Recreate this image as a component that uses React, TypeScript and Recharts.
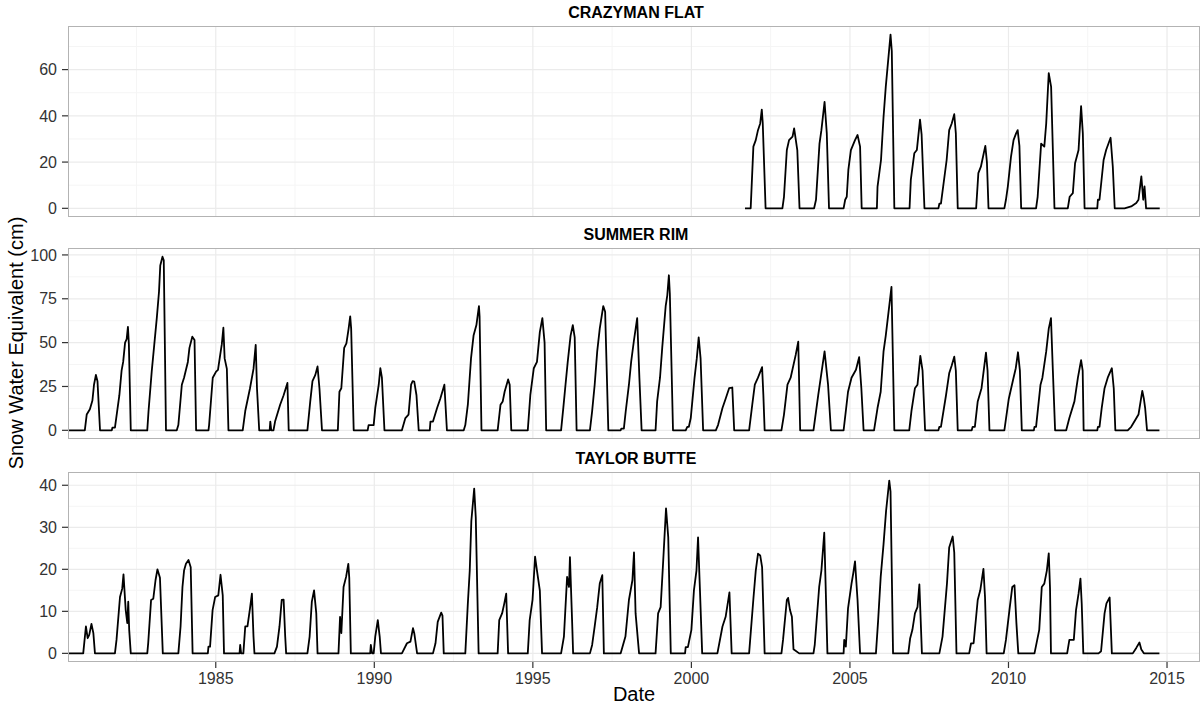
import React from 'react';
import { LineChart, Line, XAxis, YAxis, ReferenceLine } from 'recharts';

// ---- axis data ----
const xTicks = [1985, 1990, 1995, 2000, 2005, 2010, 2015];
const xMinor = [1982.5, 1987.5, 1992.5, 1997.5, 2002.5, 2007.5, 2012.5];
const xDomain: [number, number] = [1980.34, 2016.04];

const crazymanTicks = [0, 20, 40, 60];
const crazymanMinor = [10, 30, 50, 70];
const summerTicks = [0, 25, 50, 75, 100];
const summerMinor = [12.5, 37.5, 62.5, 87.5];
const taylorTicks = [0, 10, 20, 30, 40];
const taylorMinor = [5, 15, 25, 35];

// ---- series data: [decimal year, SWE cm] ----
const crazymanFlat: [number, number][] = [
  [2001.69, 0],
  [2001.87, 0], [2001.955, 26.7], [2002.03, 29.5], [2002.10, 33.8], [2002.17, 36.7], [2002.22, 42.7], [2002.25, 37], [2002.34, 0],
  [2002.87, 0], [2002.92, 5], [2003.01, 25.2], [2003.08, 29.5], [2003.19, 31], [2003.24, 34.6], [2003.34, 25.2], [2003.41, 0],
  [2003.87, 0], [2003.93, 3.7], [2004.04, 28], [2004.10, 33.8], [2004.20, 46], [2004.27, 32.4], [2004.34, 0],
  [2004.80, 0], [2004.85, 3.7], [2004.90, 5], [2004.95, 16.6], [2005.03, 25.2], [2005.16, 29.5], [2005.24, 31.7], [2005.32, 26.7], [2005.37, 0],
  [2005.85, 0], [2005.87, 9.3], [2005.98, 20.9], [2006.06, 39.6], [2006.13, 52.5], [2006.28, 75.1], [2006.32, 68], [2006.40, 0],
  [2006.88, 0], [2006.92, 12.3], [2007.03, 23.8], [2007.11, 25.2], [2007.21, 38.4], [2007.26, 32], [2007.35, 0],
  [2007.79, 0], [2007.82, 2], [2007.87, 2], [2008.05, 20.9], [2008.13, 33.8], [2008.21, 36.7], [2008.29, 40.7], [2008.34, 32.4], [2008.40, 0],
  [2008.98, 0], [2009.05, 15.2], [2009.13, 18], [2009.22, 23.8], [2009.27, 27], [2009.32, 20], [2009.37, 0],
  [2009.87, 0], [2009.92, 3.7], [2009.98, 9.5], [2010.08, 22.4], [2010.16, 29.5], [2010.24, 32.4], [2010.29, 33.8], [2010.345, 27], [2010.40, 0],
  [2010.87, 0], [2010.92, 5], [2011.03, 28], [2011.13, 26.7], [2011.19, 36.7], [2011.27, 58.5], [2011.345, 52.5], [2011.45, 0],
  [2011.87, 0], [2011.93, 5], [2012.03, 6.6], [2012.10, 19.5], [2012.21, 25.2], [2012.29, 44.2], [2012.345, 32.4], [2012.40, 0],
  [2012.80, 0], [2012.82, 3.7], [2012.87, 3.7], [2013.0, 20.9], [2013.08, 25.2], [2013.22, 30.5], [2013.29, 18], [2013.35, 0],
  [2013.66, 0], [2013.87, 0.8], [2014.03, 2.3], [2014.10, 3.7], [2014.19, 13.8], [2014.25, 3.7], [2014.29, 9.5], [2014.34, 0],
  [2014.77, 0],
];

const summerRim: [number, number][] = [
  [1980.34, 0],
  [1980.87, 0], [1980.93, 9], [1981.03, 12], [1981.11, 17], [1981.16, 26], [1981.22, 31.6], [1981.27, 28], [1981.35, 0],
  [1981.72, 0], [1981.74, 1.5], [1981.82, 1.5], [1981.96, 20], [1982.03, 34], [1982.08, 39], [1982.14, 50], [1982.19, 52], [1982.23, 59], [1982.26, 49], [1982.32, 0],
  [1982.84, 0], [1982.88, 11], [1982.98, 33.5], [1983.06, 48.7], [1983.14, 64], [1983.21, 79], [1983.25, 94], [1983.32, 99], [1983.36, 97], [1983.43, 0],
  [1983.77, 0], [1983.82, 3], [1983.93, 26], [1984.0, 30], [1984.12, 39], [1984.17, 47], [1984.26, 53.4], [1984.33, 51.5], [1984.38, 0],
  [1984.77, 0], [1984.79, 3], [1984.905, 30], [1985.01, 33.5], [1985.07, 34.5], [1985.14, 43], [1985.19, 49], [1985.24, 58.5], [1985.28, 41], [1985.35, 35], [1985.40, 0],
  [1985.85, 0], [1985.93, 11], [1986.08, 24], [1986.19, 35], [1986.26, 48.7], [1986.30, 24], [1986.37, 0],
  [1986.70, 0], [1986.72, 5], [1986.75, 0], [1986.82, 0], [1986.87, 5], [1987.03, 14.6], [1987.14, 20], [1987.26, 27], [1987.30, 0],
  [1987.89, 0], [1987.98, 16.5], [1988.05, 28], [1988.14, 31.6], [1988.21, 36.4], [1988.27, 24], [1988.35, 0],
  [1988.85, 0], [1988.90, 22], [1988.96, 24], [1989.05, 47], [1989.12, 49.6], [1989.19, 58], [1989.24, 65], [1989.27, 58], [1989.35, 0],
  [1989.79, 0], [1989.82, 3], [1989.93, 3], [1989.98, 3], [1990.03, 12.7], [1990.14, 26], [1990.19, 35.4], [1990.24, 30], [1990.32, 0],
  [1990.87, 0], [1990.98, 7], [1991.08, 9], [1991.16, 26], [1991.21, 28], [1991.26, 27.8], [1991.33, 20], [1991.40, 0],
  [1991.75, 0], [1991.77, 5], [1991.85, 5], [1991.98, 12.7], [1992.08, 18], [1992.21, 26], [1992.29, 0],
  [1992.82, 0], [1992.87, 3], [1992.95, 14.6], [1993.05, 41], [1993.13, 54], [1993.22, 60], [1993.30, 70.8], [1993.32, 65], [1993.38, 0],
  [1993.89, 0], [1993.98, 14.6], [1994.05, 16.5], [1994.11, 22], [1994.22, 29], [1994.27, 26], [1994.32, 0],
  [1994.84, 0], [1994.92, 20], [1995.03, 35.4], [1995.13, 39], [1995.22, 56], [1995.30, 64], [1995.37, 50], [1995.42, 0],
  [1995.89, 0], [1995.96, 12.7], [1996.03, 26], [1996.10, 39], [1996.19, 54], [1996.26, 60], [1996.32, 53], [1996.38, 0],
  [1996.80, 0], [1996.87, 11], [1996.95, 26], [1997.03, 45], [1997.11, 58], [1997.22, 70.8], [1997.28, 67.6], [1997.38, 0],
  [1997.77, 0], [1997.79, 1], [1997.87, 1], [1997.93, 11], [1998.03, 26], [1998.10, 39], [1998.19, 51.5], [1998.29, 64], [1998.36, 30], [1998.43, 0],
  [1998.87, 0], [1998.92, 16.5], [1999.01, 30], [1999.08, 47], [1999.19, 71], [1999.24, 77], [1999.29, 88.4], [1999.32, 78], [1999.42, 0],
  [1999.82, 0], [1999.87, 2], [1999.92, 2], [1999.98, 7], [2000.10, 30], [2000.17, 41], [2000.23, 53], [2000.29, 41], [2000.37, 0],
  [2000.77, 0], [2000.84, 3], [2000.98, 12.7], [2001.08, 18], [2001.19, 24], [2001.29, 24.4], [2001.35, 0],
  [2001.82, 0], [2001.92, 14.6], [2002.0, 26], [2002.10, 30], [2002.23, 36], [2002.27, 20], [2002.31, 0],
  [2002.84, 0], [2002.92, 9], [2003.03, 26], [2003.13, 30], [2003.29, 43], [2003.37, 50.6], [2003.43, 0],
  [2003.85, 0], [2004.0, 20], [2004.08, 30], [2004.20, 45], [2004.31, 26], [2004.40, 0],
  [2004.80, 0], [2004.87, 11], [2004.94, 22], [2005.05, 30], [2005.19, 34.5], [2005.29, 41.7], [2005.36, 24], [2005.43, 0],
  [2005.76, 0], [2005.87, 12.7], [2005.97, 22], [2006.06, 45], [2006.13, 54], [2006.24, 71], [2006.31, 81.8], [2006.40, 0],
  [2006.87, 0], [2006.94, 11], [2007.05, 24], [2007.13, 26], [2007.22, 42.4], [2007.29, 34], [2007.37, 0],
  [2007.79, 0], [2007.82, 2], [2007.87, 2], [2008.03, 20], [2008.13, 32.5], [2008.21, 37], [2008.29, 42], [2008.34, 34], [2008.40, 0],
  [2008.84, 0], [2008.87, 2], [2008.94, 2], [2009.03, 16.5], [2009.15, 24], [2009.29, 44.3], [2009.34, 34], [2009.40, 0],
  [2009.87, 0], [2010.01, 18], [2010.16, 30], [2010.23, 35.4], [2010.30, 44.5], [2010.36, 34], [2010.42, 0],
  [2010.80, 0], [2010.82, 2], [2010.87, 2], [2011.01, 26], [2011.07, 30], [2011.19, 45], [2011.27, 58], [2011.34, 64], [2011.40, 34], [2011.47, 0],
  [2011.82, 0], [2011.92, 7], [2012.08, 16.5], [2012.19, 30], [2012.29, 40], [2012.34, 34], [2012.37, 0],
  [2012.80, 0], [2012.82, 2], [2012.87, 2], [2012.94, 12.7], [2013.03, 24], [2013.13, 30], [2013.26, 35.4], [2013.32, 24], [2013.37, 0],
  [2013.76, 0], [2013.87, 2], [2013.97, 5], [2014.10, 9], [2014.22, 22.5], [2014.27, 18], [2014.31, 12.7], [2014.37, 0],
  [2014.76, 0],
];

const taylorButte: [number, number][] = [
  [1980.34, 0],
  [1980.82, 0], [1980.905, 6.4], [1980.96, 3.6], [1981.01, 4.4], [1981.08, 7], [1981.14, 4.8], [1981.19, 0],
  [1981.82, 0], [1981.87, 3.2], [1981.98, 13.4], [1982.05, 15.4], [1982.09, 18.8], [1982.16, 10.3], [1982.21, 7.2], [1982.24, 12.3], [1982.27, 5.6], [1982.32, 0],
  [1982.84, 0], [1982.87, 2.5], [1982.96, 12.7], [1983.03, 13], [1983.10, 17.4], [1983.16, 20], [1983.24, 18], [1983.33, 0],
  [1983.82, 0], [1983.89, 6.4], [1983.95, 15.8], [1984.0, 19.7], [1984.06, 21.3], [1984.14, 22.2], [1984.21, 20.5], [1984.27, 0],
  [1984.75, 0], [1984.77, 1.6], [1984.82, 1.6], [1984.90, 10.3], [1984.98, 13.4], [1985.08, 13.8], [1985.15, 18.7], [1985.22, 13.8], [1985.26, 0],
  [1985.75, 0], [1985.77, 2], [1985.80, 0], [1985.87, 0], [1985.93, 6.4], [1986.0, 6.4], [1986.08, 10.7], [1986.14, 14.2], [1986.19, 4], [1986.22, 0],
  [1986.85, 0], [1986.93, 1.6], [1987.01, 6.4], [1987.08, 12.7], [1987.14, 12.8], [1987.19, 4], [1987.22, 0],
  [1987.89, 0], [1987.96, 4], [1988.03, 12.3], [1988.10, 15], [1988.17, 9.5], [1988.21, 0],
  [1988.87, 0], [1988.92, 8.7], [1988.96, 4.8], [1989.03, 15.8], [1989.11, 18.2], [1989.18, 21.3], [1989.21, 18], [1989.26, 0],
  [1989.87, 0], [1989.89, 2], [1989.93, 0], [1989.98, 0], [1990.03, 4], [1990.11, 7.9], [1990.17, 4], [1990.21, 0],
  [1990.87, 0], [1991.03, 2.4], [1991.14, 2.8], [1991.22, 6], [1991.26, 4.8], [1991.35, 0],
  [1991.85, 0], [1991.93, 2.4], [1992.0, 7.5], [1992.11, 9.7], [1992.15, 9], [1992.19, 0],
  [1992.87, 0], [1992.95, 11.9], [1993.01, 19.7], [1993.06, 31.5], [1993.15, 39.2], [1993.20, 32.3], [1993.29, 0],
  [1993.89, 0], [1993.94, 7.9], [1994.03, 9.5], [1994.10, 11.9], [1994.16, 14.2], [1994.22, 0],
  [1994.84, 0], [1994.90, 7.9], [1994.99, 12.7], [1995.07, 23], [1995.13, 19.7], [1995.22, 15], [1995.29, 0],
  [1995.89, 0], [1995.98, 4], [1996.08, 18.2], [1996.14, 15.8], [1996.17, 22.9], [1996.24, 7.2], [1996.27, 0],
  [1996.80, 0], [1996.87, 2], [1996.95, 6.4], [1997.03, 11], [1997.11, 16.6], [1997.19, 18.6], [1997.24, 0],
  [1997.77, 0], [1997.92, 4], [1998.03, 12.7], [1998.14, 17.4], [1998.19, 24], [1998.24, 9.5], [1998.35, 0],
  [1998.87, 0], [1998.95, 9.5], [1999.03, 11], [1999.10, 20.5], [1999.20, 34.5], [1999.27, 27.6], [1999.35, 0],
  [1999.80, 0], [1999.82, 1.5], [1999.89, 1.5], [2000.0, 5.6], [2000.08, 15], [2000.16, 19.7], [2000.21, 27.6], [2000.27, 15], [2000.34, 0],
  [2000.82, 0], [2000.98, 6.4], [2001.08, 8.7], [2001.20, 14.5], [2001.27, 0],
  [2001.82, 0], [2001.96, 13.4], [2002.03, 19.7], [2002.10, 23.7], [2002.17, 23.3], [2002.23, 20.5], [2002.31, 0],
  [2002.84, 0], [2002.89, 3.2], [2003.01, 12.7], [2003.05, 13.2], [2003.11, 10.3], [2003.17, 8.7], [2003.22, 1], [2003.40, 0],
  [2003.85, 0], [2003.89, 2], [2004.03, 15.8], [2004.10, 19.7], [2004.19, 28.7], [2004.29, 0],
  [2004.80, 0], [2004.82, 3.2], [2004.87, 1.6], [2004.94, 10.7], [2005.05, 16.6], [2005.11, 19.3], [2005.16, 21.9], [2005.24, 12.7], [2005.32, 0],
  [2005.82, 0], [2005.89, 7.9], [2005.97, 18.2], [2006.06, 26], [2006.14, 33.9], [2006.24, 41.1], [2006.28, 38.5], [2006.36, 0],
  [2006.84, 0], [2006.90, 3.6], [2006.97, 5.6], [2007.05, 9.5], [2007.13, 11], [2007.19, 16.4], [2007.27, 0],
  [2007.82, 0], [2007.92, 4], [2008.06, 16.6], [2008.13, 25.2], [2008.24, 27.8], [2008.29, 24], [2008.36, 0],
  [2008.76, 0], [2008.82, 2.4], [2008.90, 2.4], [2009.03, 12.7], [2009.11, 15], [2009.21, 20.1], [2009.26, 13.4], [2009.31, 0],
  [2009.85, 0], [2009.92, 3.2], [2010.03, 10.3], [2010.12, 15.8], [2010.19, 16.2], [2010.25, 7.2], [2010.31, 0],
  [2010.82, 0], [2010.97, 5.6], [2011.05, 15.8], [2011.13, 16.6], [2011.21, 19.7], [2011.27, 23.8], [2011.31, 15.5], [2011.34, 0],
  [2011.85, 0], [2011.92, 3.2], [2012.06, 3.2], [2012.13, 10.3], [2012.21, 14.2], [2012.27, 17.8], [2012.31, 11.8], [2012.36, 0],
  [2012.84, 0], [2012.92, 0.5], [2013.03, 9.5], [2013.09, 11.9], [2013.19, 13.3], [2013.26, 0],
  [2013.92, 0], [2014.03, 1.3], [2014.13, 2.6], [2014.19, 0.9], [2014.27, 0],
  [2014.76, 0],
];

const FONT = '"Liberation Sans", Arial, Helvetica, sans-serif';
const PLOT_LEFT = 68;
const PLOT_W = 1132;
const CHART_W = 1202;

type PanelProps = {
  title: string;
  points: [number, number][];
  yTicks: number[];
  yMinor: number[];
  top: number;
  plotH: number;
  showX: boolean;
};

function Panel({ title, points, yTicks, yMinor, top, plotH, showX }: PanelProps) {
  const data = points.map(([x, y]) => ({ x, y }));
  const maxY = Math.max(...points.map((p) => p[1]));
  const pad = maxY * 0.05;
  const axisH = showX ? 30 : 0;
  const h = plotH + axisH;
  return (
    <>
      <div
        style={{
          position: 'absolute',
          left: PLOT_LEFT + PLOT_W / 2 + 2,
          top: top - 13,
          transform: 'translate(-50%, -50%)',
          fontWeight: 'bold',
          fontSize: 16,
          whiteSpace: 'nowrap',
          color: '#000',
        }}
      >
        {title}
      </div>
      <div style={{ position: 'absolute', left: 0, top, width: CHART_W, height: h }}>
        <LineChart width={CHART_W} height={h} data={data} margin={{ top: 0, right: 2, bottom: 0, left: 0 }}>
          <XAxis
            dataKey="x"
            type="number"
            domain={xDomain}
            ticks={xTicks}
            allowDataOverflow
            hide={!showX}
            height={axisH}
            axisLine={false}
            tickSize={6}
            tickMargin={5}
            tickLine={{ stroke: '#333', strokeWidth: 1.2 }}
            tick={{ fontSize: 16, fill: '#333', fontFamily: FONT }}
            interval={0}
          />
          <YAxis
            type="number"
            domain={[-pad, maxY + pad]}
            ticks={yTicks}
            allowDataOverflow
            width={PLOT_LEFT}
            axisLine={false}
            tickSize={6}
            tickMargin={5}
            tickLine={{ stroke: '#333', strokeWidth: 1.2 }}
            tick={{ fontSize: 16, fill: '#333', fontFamily: FONT }}
            interval={0}
          />
          {xMinor.map((v) => (
            <ReferenceLine key={'xm' + v} x={v} stroke="#f5f5f5" strokeWidth={1} />
          ))}
          {yMinor.map((v) => (
            <ReferenceLine key={'ym' + v} y={v} stroke="#f5f5f5" strokeWidth={1} />
          ))}
          {xTicks.map((v) => (
            <ReferenceLine key={'xM' + v} x={v} stroke="#ebebeb" strokeWidth={1.2} />
          ))}
          {yTicks.map((v) => (
            <ReferenceLine key={'yM' + v} y={v} stroke="#ebebeb" strokeWidth={1.2} />
          ))}
          <Line
            type="linear"
            dataKey="y"
            stroke="#000"
            strokeWidth={1.8}
            dot={false}
            activeDot={false}
            isAnimationActive={false}
            strokeLinejoin="round"
          />
        </LineChart>
        <div
          style={{
            position: 'absolute',
            left: PLOT_LEFT,
            top: 0,
            width: PLOT_W,
            height: plotH,
            border: '1px solid #b3b3b3',
            boxSizing: 'border-box',
            pointerEvents: 'none',
          }}
        />
      </div>
    </>
  );
}

export default function App() {
  return (
    <div
      style={{
        position: 'absolute',
        left: 0,
        top: 0,
        width: 1202,
        height: 710,
        background: '#fff',
        fontFamily: FONT,
        color: '#000',
        overflow: 'hidden',
      }}
    >
      <Panel title="CRAZYMAN FLAT" points={crazymanFlat} yTicks={crazymanTicks} yMinor={crazymanMinor} top={26} plotH={191} showX={false} />
      <Panel title="SUMMER RIM" points={summerRim} yTicks={summerTicks} yMinor={summerMinor} top={248} plotH={191} showX={false} />
      <Panel title="TAYLOR BUTTE" points={taylorButte} yTicks={taylorTicks} yMinor={taylorMinor} top={472} plotH={190} showX={true} />
      <div
        style={{
          position: 'absolute',
          left: 16,
          top: 343,
          transform: 'translate(-50%, -50%) rotate(-90deg)',
          whiteSpace: 'nowrap',
          fontSize: 20,
        }}
      >
        Snow Water Equivalent (cm)
      </div>
      <div
        style={{
          position: 'absolute',
          left: 634,
          top: 694,
          transform: 'translate(-50%, -50%)',
          whiteSpace: 'nowrap',
          fontSize: 20,
        }}
      >
        Date
      </div>
    </div>
  );
}
